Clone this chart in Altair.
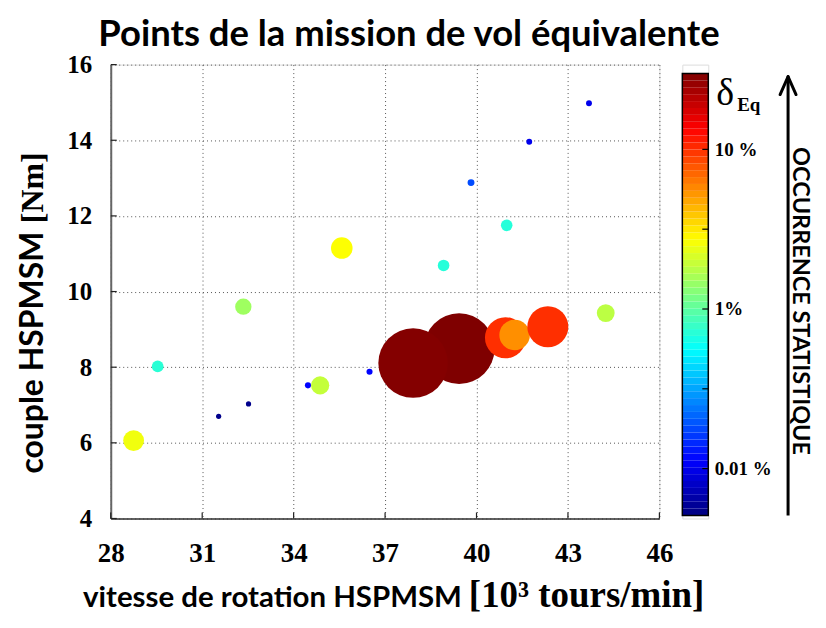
import altair as alt
import pandas as pd
import numpy as np

# ---------------- data ----------------
speed = [39.43, 37.92, 40.95, 41.25, 42.34, 35.58, 28.75, 34.87, 44.24, 32.35,
         29.54, 38.92, 40.99, 39.82, 34.47, 36.49, 41.73, 43.69, 32.52, 31.54]
torque = [8.49, 8.11, 8.78, 8.85, 9.07, 11.15, 6.06, 7.52, 9.43, 9.60,
          8.02, 10.69, 11.75, 12.88, 7.52, 7.88, 13.96, 14.98, 7.03, 6.70]
delta = [30, 29, 10, 5.5, 10, 2.7, 2.5, 1.9, 1.8, 1.5,
         0.72, 0.7, 0.7, 0.18, 0.115, 0.115, 0.1, 0.1, 0.055, 0.055]

x_ticks = [28, 31, 34, 37, 40, 43, 46]
y_ticks = [4, 6, 8, 10, 12, 14, 16]
cbar_ticks = [10, 3.162, 1, 0.3162, 0.1]
cbar_label_values = [10, 1, 0.1]

JET = ["#00007f", "#0000ff", "#007fff", "#00ffff", "#7fff7f",
       "#ffff00", "#ff7f00", "#ff0000", "#7f0000"]
D_LO, D_HI = 0.0508, 29.9          # colour bar extent
CB_LO, CB_HI = 0.0487, 33.96       # colour bar panel y range

SANS = "Lato"
SERIF = "Liberation Serif"
W, H = 550, 455

color_scale = alt.Scale(type="log", domain=[D_LO, D_HI], range=JET,
                        interpolate="rgb", clamp=True)
size_scale = alt.Scale(domain=[0, 30], range=[18, 5030])
xs = alt.Scale(domain=[28, 46], nice=False, zero=False)
ys = alt.Scale(domain=[4, 16], nice=False, zero=False)

x_axis = alt.Axis(values=x_ticks, title=None, labelFont=SERIF, labelFontWeight="bold",
                  labelFontSize=27, labelColor="black", labelPadding=22, tickSize=0,
                  domainColor="#333", domainWidth=1.5, grid=True, gridColor="#555",
                  gridDash=[1, 3], gridWidth=1, labelFlush=False)
y_axis = alt.Axis(values=y_ticks, title=None, labelFont=SERIF, labelFontWeight="bold",
                  labelFontSize=25, labelColor="black", labelPadding=19, tickSize=0,
                  domainColor="#666", domainWidth=2, grid=True, gridColor="#555",
                  gridDash=[1, 3], gridWidth=1, labelFlush=False)

pts = pd.DataFrame({"vitesse": speed, "couple": torque, "delta": delta,
                    "ordre": list(range(len(speed)))})

points = alt.Chart(pts).mark_circle(opacity=1).encode(
    x=alt.X("vitesse:Q", scale=xs, axis=x_axis),
    y=alt.Y("couple:Q", scale=ys, axis=y_axis),
    size=alt.Size("delta:Q", scale=size_scale, legend=None),
    color=alt.Color("delta:Q", scale=color_scale, legend=None),
    order=alt.Order("ordre:Q"),
)

xt = alt.Chart(pd.DataFrame({"vitesse": x_ticks})).mark_rule(color="#222", strokeWidth=1.2).encode(
    x=alt.X("vitesse:Q", scale=xs, axis=x_axis), y=alt.value(H - 6), y2=alt.value(H))
yt = alt.Chart(pd.DataFrame({"couple": y_ticks})).mark_rule(color="#222", strokeWidth=1.2).encode(
    y=alt.Y("couple:Q", scale=ys, axis=y_axis), x=alt.value(0), x2=alt.value(6))

one = pd.DataFrame({"k": [0]})


def txt(text, x, y, font, size, weight="bold", align="left", angle=0, baseline="alphabetic"):
    return alt.Chart(one).mark_text(text=text, font=font, fontSize=size, fontWeight=weight,
                                    align=align, baseline=baseline, angle=angle,
                                    color="black").encode(x=alt.value(x), y=alt.value(y))


title = txt("Points de la mission de vol équivalente", 299, -19, SANS, 36.5, align="center")
xt_sans = txt("vitesse de rotation HSPMSM", 352, 544, SANS, 29.5, align="right")
xt_serif = txt("[10³ tours/min]", 359, 544, SERIF, 37)
yt_sans = txt("couple HSPMSM", -68, 410, SANS, 32, angle=270)
yt_serif = txt("[Nm]", -68, 159, SERIF, 32, angle=270)

main = alt.layer(points, xt, yt, title, xt_sans, xt_serif, yt_sans, yt_serif).properties(
    width=W, height=H)

# ---------------- colour bar ----------------
edges = np.logspace(np.log10(D_LO), np.log10(D_HI), 65)
bands = pd.DataFrame({"lo": edges[:-1], "hi": edges[1:],
                      "delta": np.sqrt(edges[:-1] * edges[1:])})
cb_y = alt.Scale(type="log", domain=[CB_LO, CB_HI], nice=False, zero=False)
cb_axis = alt.Axis(orient="right", values=cbar_label_values, title=None,
                   labelExpr="datum.value >= 5 ? '10 %' : (datum.value >= 0.5 ? '1%' : '0.01 %')",
                   labelFont=SERIF, labelFontWeight="bold", labelFontSize=19,
                   labelColor="black", labelPadding=6, ticks=False, domain=False, grid=False)

band_layer = alt.Chart(bands).mark_rect().encode(
    y=alt.Y("lo:Q", scale=cb_y, axis=cb_axis), y2="hi:Q",
    x=alt.value(0), x2=alt.value(26),
    color=alt.Color("delta:Q", scale=color_scale, legend=None))
border = alt.Chart(pd.DataFrame({"lo": [D_LO], "hi": [D_HI]})).mark_rect(
    fillOpacity=0, stroke="black", strokeWidth=1.5).encode(
    y=alt.Y("lo:Q", scale=cb_y, axis=cb_axis), y2="hi:Q", x=alt.value(0), x2=alt.value(26))
cb_ticks = alt.Chart(pd.DataFrame({"lo": cbar_ticks})).mark_rule(color="black", strokeWidth=1.2).encode(
    y=alt.Y("lo:Q", scale=cb_y, axis=cb_axis), x=alt.value(20), x2=alt.value(26))

delta_sym = txt("δ", 34, 40, SERIF, 38, weight="normal")
eq_sub = txt("Eq", 55, 47, SERIF, 19)

shaft = alt.Chart(one).mark_rule(color="black", strokeWidth=3).encode(
    x=alt.value(106), x2=alt.value(106), y=alt.value(13), y2=alt.value(452))
head_l = alt.Chart(one).mark_rule(color="black", strokeWidth=3, strokeCap="round").encode(
    x=alt.value(98), y=alt.value(30), x2=alt.value(106), y2=alt.value(12))
head_r = alt.Chart(one).mark_rule(color="black", strokeWidth=3, strokeCap="round").encode(
    x=alt.value(114), y=alt.value(30), x2=alt.value(106), y2=alt.value(12))
occ = txt("OCCURRENCE STATISTIQUE", 118, 237, SANS, 23.5, align="center", angle=90,
          baseline="middle")

cbar = alt.layer(band_layer, border, cb_ticks, delta_sym, eq_sub, shaft, head_l, head_r, occ).properties(
    width=26, height=H)

chart = alt.hconcat(main, cbar, spacing=23, bounds="flush").resolve_scale(
    x="independent", y="independent", color="shared", size="independent"
).properties(
    padding={"left": 8, "top": 7, "right": 5, "bottom": 0}
).configure_view(strokeWidth=0).configure(background="white")

chart.save("out.html", embed_options={"renderer": "svg", "actions": False})
